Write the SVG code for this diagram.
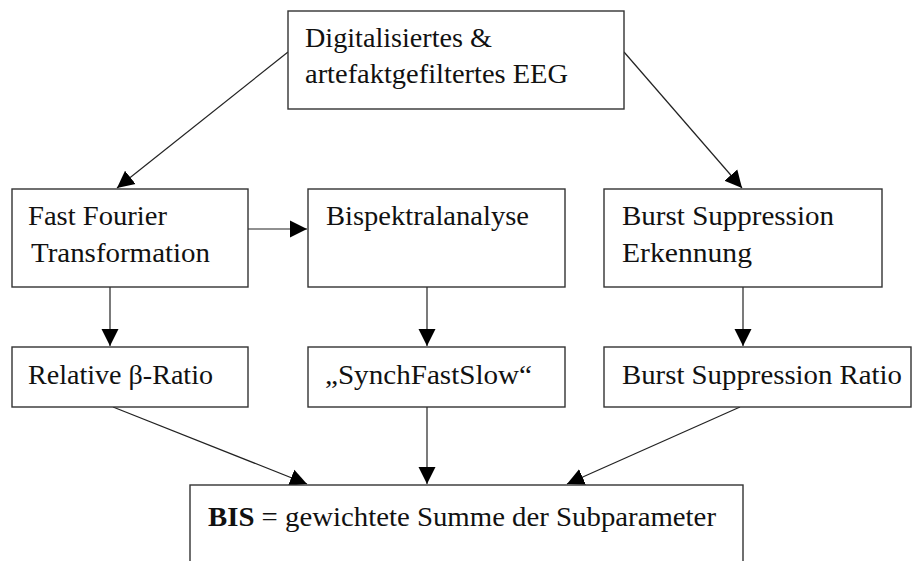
<svg xmlns="http://www.w3.org/2000/svg" width="913" height="561" viewBox="0 0 913 561">
<style>
.box{fill:#fff;stroke:#333;stroke-width:1.4}
.t{font-family:"Liberation Serif","Times New Roman",serif;font-size:27px;fill:#111}
.c{stroke:#222;stroke-width:1.2;fill:none}
</style>
<defs>
<marker id="ah" markerUnits="userSpaceOnUse" markerWidth="18" markerHeight="18" refX="17" refY="9" orient="auto">
<path d="M0,0.5 L17,9 L0,17.5 z" fill="#000"/>
</marker>
</defs>
<rect width="913" height="561" fill="#fff"/>
<g id="connectors">
<line class="c" x1="288" y1="52" x2="117" y2="188" marker-end="url(#ah)"/>
<line class="c" x1="624" y1="52" x2="742" y2="188" marker-end="url(#ah)"/>
<line class="c" x1="248" y1="229" x2="307" y2="229" marker-end="url(#ah)"/>
<line class="c" x1="110" y1="287" x2="110" y2="346" marker-end="url(#ah)"/>
<line class="c" x1="427" y1="287" x2="427" y2="346" marker-end="url(#ah)"/>
<line class="c" x1="743" y1="287" x2="743" y2="346" marker-end="url(#ah)"/>
<line class="c" x1="113" y1="407" x2="307" y2="484" marker-end="url(#ah)"/>
<line class="c" x1="427" y1="407" x2="427" y2="484" marker-end="url(#ah)"/>
<line class="c" x1="740" y1="407" x2="567" y2="484" marker-end="url(#ah)"/>
</g>
<g id="eeg">
<rect class="box" x="288" y="11" width="336" height="98"/>
<text class="t" x="305" y="47" textLength="187" lengthAdjust="spacingAndGlyphs">Digitalisiertes &amp;</text>
<text class="t" x="305" y="83" textLength="263" lengthAdjust="spacingAndGlyphs">artefaktgefiltertes EEG</text>
</g>
<g id="fft">
<rect class="box" x="12" y="189" width="236" height="98"/>
<text class="t" x="28" y="225" textLength="139" lengthAdjust="spacingAndGlyphs">Fast Fourier</text>
<text class="t" x="31" y="262" textLength="179" lengthAdjust="spacingAndGlyphs">Transformation</text>
</g>
<g id="bispektral">
<rect class="box" x="308" y="189" width="257" height="98"/>
<text class="t" x="326" y="225" textLength="203" lengthAdjust="spacingAndGlyphs">Bispektralanalyse</text>
</g>
<g id="burst">
<rect class="box" x="604" y="189" width="278" height="98"/>
<text class="t" x="622" y="225" textLength="212" lengthAdjust="spacingAndGlyphs">Burst Suppression</text>
<text class="t" x="622" y="262" textLength="130" lengthAdjust="spacingAndGlyphs">Erkennung</text>
</g>
<g id="beta">
<rect class="box" x="12" y="347" width="236" height="60"/>
<text class="t" x="28" y="384" textLength="185" lengthAdjust="spacingAndGlyphs">Relative β-Ratio</text>
</g>
<g id="synch">
<rect class="box" x="308" y="347" width="257" height="60"/>
<text class="t" x="325" y="384" textLength="207" lengthAdjust="spacingAndGlyphs">„SynchFastSlow“</text>
</g>
<g id="bsr">
<rect class="box" x="604" y="347" width="307" height="60"/>
<text class="t" x="622" y="384" textLength="280" lengthAdjust="spacingAndGlyphs">Burst Suppression Ratio</text>
</g>
<g id="bis">
<rect class="box" x="190" y="485" width="553" height="90"/>
<text class="t" x="208" y="526" textLength="508" lengthAdjust="spacingAndGlyphs"><tspan font-weight="bold">BIS</tspan> = gewichtete Summe der Subparameter</text>
</g>
</svg>
